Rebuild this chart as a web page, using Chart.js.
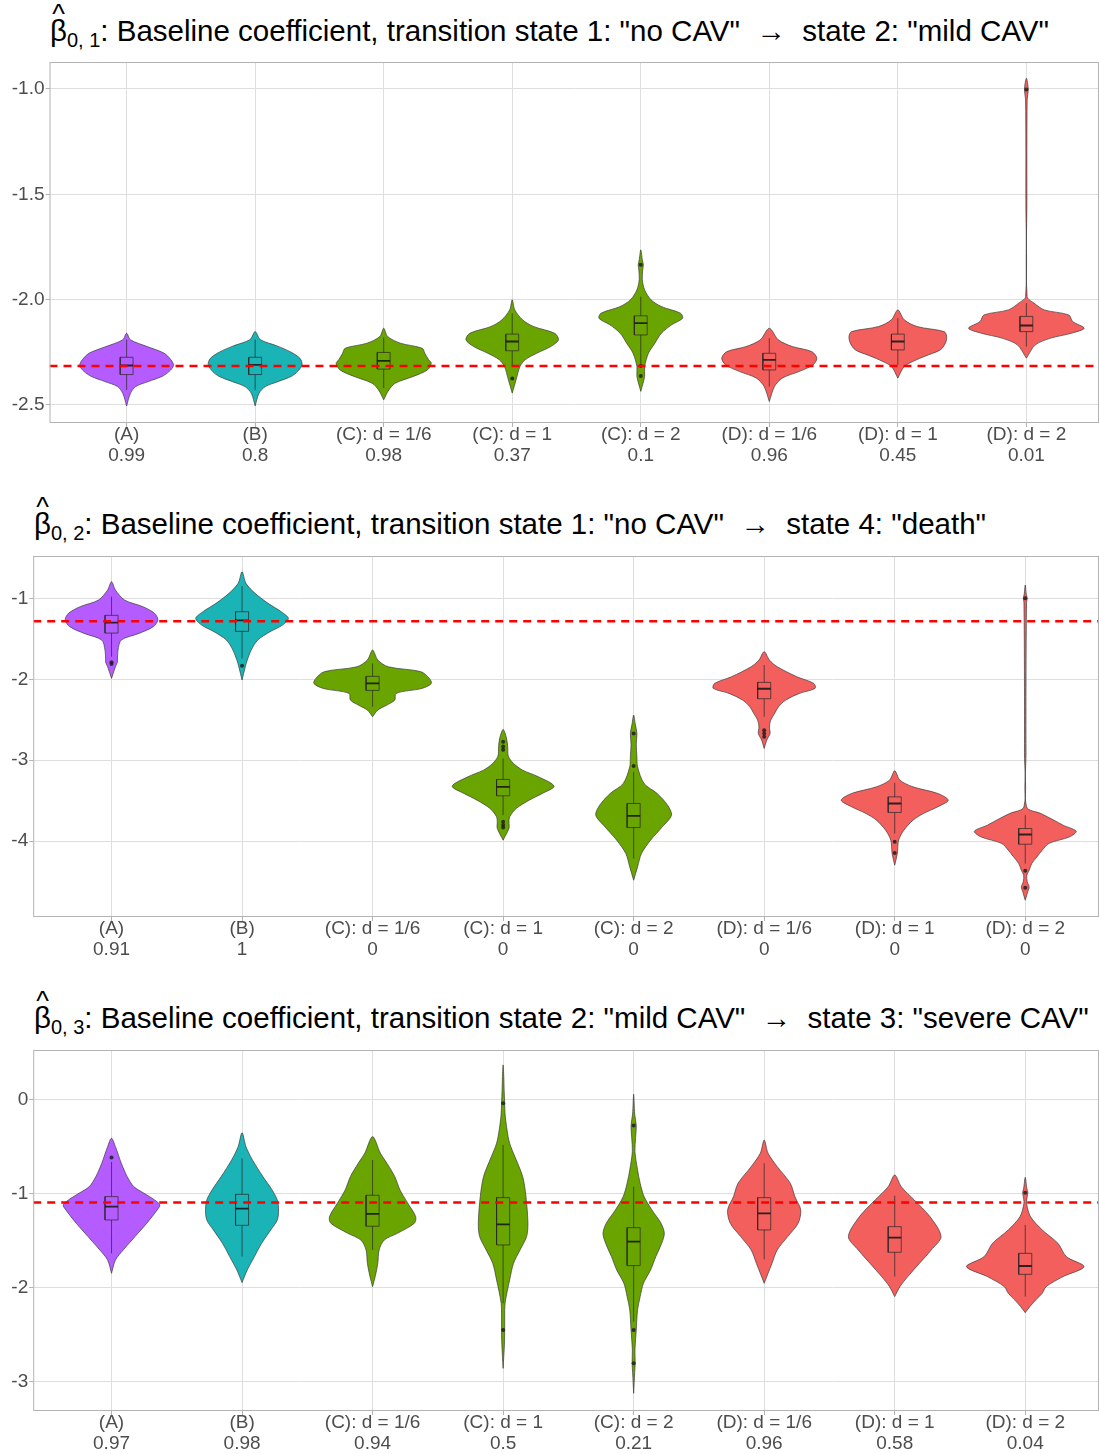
<!DOCTYPE html>
<html>
<head>
<meta charset="utf-8">
<script src="https://cdn.jsdelivr.net/npm/chart.js@4.4.1/dist/chart.umd.min.js"></script>
<style>
  body { margin: 0; background: #fff; width: 1099px; height: 1454px; overflow: hidden; position: relative;
         font-family: "Liberation Sans", Arial, sans-serif; }
  .title { position: absolute; font-size: 29.5px; line-height: 28px; color: #000; white-space: pre; }
  .title sub { font-size: 20px; vertical-align: -6px; line-height: 0; }
  .beta { position: relative; display: inline-block; }
  .hat { position: absolute; left: 0; right: 0; text-align: center; top: -17px; font-size: 27px; }
  canvas { position: absolute; left: 0; }
</style>
</head>
<body>
<div class="title" style="top:17px;left:50px"><span class="beta">β<span class="hat">^</span></span><sub>0, 1</sub>: Baseline coefficient, transition state 1: "no CAV"  →  state 2: "mild CAV"</div>
<canvas id="c1" width="1099" height="420" style="top:58px"></canvas>

<div class="title" style="top:510px;left:34px"><span class="beta">β<span class="hat">^</span></span><sub>0, 2</sub>: Baseline coefficient, transition state 1: "no CAV"  →  state 4: "death"</div>
<canvas id="c2" width="1099" height="420" style="top:552px"></canvas>

<div class="title" style="top:1004px;left:34px"><span class="beta">β<span class="hat">^</span></span><sub>0, 3</sub>: Baseline coefficient, transition state 2: "mild CAV"  →  state 3: "severe CAV"</div>
<canvas id="c3" width="1099" height="420" style="top:1046px"></canvas>

<script>
const categories = ["(A)", "(B)", "(C): d = 1/6", "(C): d = 1", "(C): d = 2", "(D): d = 1/6", "(D): d = 1", "(D): d = 2"];

// ---- panel 1: beta_{0,1}
const p1Coverage = ["0.99", "0.8", "0.98", "0.37", "0.1", "0.96", "0.45", "0.01"];
const p1TrueValue = -2.315;
const p1YTicks = [-2.5, -2.0, -1.5, -1.0];
const p1YLabels = ["-2.5", "-2.0", "-1.5", "-1.0"];
// [lower whisker, q1, median, q3, upper whisker]
const p1Box = [
  [-2.43, -2.356, -2.313, -2.274, -2.19],
  [-2.43, -2.356, -2.31, -2.274, -2.19],
  [-2.42, -2.33, -2.291, -2.251, -2.18],
  [-2.318, -2.243, -2.199, -2.164, -2.065],
  [-2.31, -2.168, -2.112, -2.077, -1.986],
  [-2.413, -2.334, -2.286, -2.255, -2.183],
  [-2.31, -2.239, -2.199, -2.164, -2.088],
  [-2.223, -2.152, -2.123, -2.08, -2.017]
];
const p1Outliers = [[], [], [], [-2.375], [-1.835, -2.315, -2.363], [], [], [-1.002]];
// violin outline: values from bottom tip to top tip, with half widths
const p1ViolinY = [
  [-2.505, -2.445, -2.413, -2.389, -2.365, -2.342, -2.313, -2.286, -2.254, -2.223, -2.191, -2.16],
  [-2.505, -2.445, -2.413, -2.389, -2.365, -2.342, -2.31, -2.28, -2.25, -2.22, -2.19, -2.152],
  [-2.476, -2.429, -2.397, -2.365, -2.334, -2.302, -2.286, -2.255, -2.231, -2.207, -2.175, -2.136],
  [-2.444, -2.381, -2.318, -2.286, -2.255, -2.223, -2.191, -2.16, -2.128, -2.096, -2.049, -2.001],
  [-2.436, -2.365, -2.318, -2.255, -2.207, -2.16, -2.12, -2.089, -2.065, -2.033, -2.001, -1.954, -1.906, -1.859, -1.835, -1.811, -1.764],
  [-2.484, -2.413, -2.373, -2.342, -2.31, -2.278, -2.247, -2.223, -2.191, -2.136],
  [-2.373, -2.318, -2.286, -2.262, -2.239, -2.207, -2.175, -2.152, -2.128, -2.096, -2.049],
  [-2.278, -2.215, -2.183, -2.16, -2.136, -2.104, -2.073, -2.049, -2.017, -1.986, -1.527, -1.052, -1.002, -0.949]
];
const p1ViolinW = [
  [0, 0.03, 0.07, 0.17, 0.275, 0.33, 0.365, 0.345, 0.29, 0.16, 0.03, 0],
  [0, 0.03, 0.08, 0.18, 0.28, 0.33, 0.365, 0.35, 0.28, 0.17, 0.04, 0],
  [0, 0.04, 0.09, 0.23, 0.34, 0.37, 0.35, 0.32, 0.3, 0.13, 0.03, 0],
  [0, 0.03, 0.06, 0.1, 0.19, 0.3, 0.36, 0.33, 0.166, 0.08, 0.02, 0],
  [0, 0.03, 0.03, 0.06, 0.11, 0.16, 0.24, 0.325, 0.31, 0.16, 0.08, 0.03, 0.012, 0.015, 0.02, 0.012, 0],
  [0, 0.04, 0.1, 0.23, 0.34, 0.37, 0.33, 0.18, 0.07, 0],
  [0, 0.05, 0.145, 0.24, 0.33, 0.37, 0.38, 0.36, 0.15, 0.05, 0],
  [0, 0.07, 0.19, 0.35, 0.45, 0.36, 0.33, 0.14, 0.06, 0.006, 0.004, 0.006, 0.015, 0]
];

// ---- panel 2: beta_{0,2}
const p2Coverage = ["0.91", "1", "0", "0", "0", "0", "0", "0"];
const p2TrueValue = -1.284;
const p2YTicks = [-4, -3, -2, -1];
const p2YLabels = ["-4", "-3", "-2", "-1"];
const p2Box = [
  [-1.721, -1.429, -1.301, -1.21, -0.98],
  [-1.742, -1.408, -1.272, -1.165, -0.848],
  [-2.339, -2.137, -2.051, -1.964, -1.803],
  [-3.678, -3.439, -3.328, -3.237, -2.978],
  [-4.214, -3.831, -3.686, -3.534, -3.143],
  [-2.463, -2.24, -2.117, -2.038, -1.824],
  [-3.905, -3.645, -3.534, -3.452, -3.279],
  [-4.276, -4.037, -3.917, -3.843, -3.678]
];
const p2Outliers = [[-1.79, -1.81], [-1.832], [], [-2.77, -2.83, -2.87, -3.76, -3.8, -3.83], [-2.669, -3.07], [-2.63, -2.67, -2.71], [-4.008, -4.144], [-1.0, -4.366, -4.576]];
const p2ViolinY = [
  [-1.989, -1.845, -1.79, -1.762, -1.639, -1.515, -1.433, -1.35, -1.268, -1.185, -1.103, -1.021, -0.897, -0.794],
  [-2.009, -1.845, -1.762, -1.639, -1.515, -1.412, -1.33, -1.247, -1.165, -1.062, -0.938, -0.815, -0.67],
  [-2.463, -2.38, -2.318, -2.257, -2.174, -2.112, -2.051, -1.989, -1.906, -1.845, -1.762, -1.639],
  [-3.987, -3.84, -3.76, -3.699, -3.596, -3.493, -3.41, -3.32, -3.204, -3.122, -3.04, -2.95, -2.83, -2.72, -2.619],
  [-4.482, -4.317, -4.152, -3.987, -3.822, -3.678, -3.555, -3.41, -3.287, -3.081, -2.957, -2.8, -2.669, -2.55, -2.442],
  [-2.854, -2.75, -2.67, -2.59, -2.504, -2.421, -2.339, -2.257, -2.174, -2.112, -2.051, -1.968, -1.845, -1.762, -1.659],
  [-4.296, -4.152, -3.987, -3.864, -3.74, -3.658, -3.575, -3.493, -3.41, -3.328, -3.246, -3.13],
  [-4.729, -4.62, -4.564, -4.5, -4.42, -4.358, -4.276, -4.193, -4.111, -4.028, -3.946, -3.876, -3.802, -3.74, -3.658, -3.575, -2.9, -2.0, -1.05, -1.0, -0.95, -0.835]
];
const p2ViolinW = [
  [0, 0.03, 0.045, 0.045, 0.05, 0.075, 0.21, 0.32, 0.355, 0.33, 0.24, 0.1, 0.03, 0],
  [0, 0.025, 0.04, 0.07, 0.12, 0.215, 0.31, 0.355, 0.3, 0.2, 0.1, 0.03, 0],
  [0, 0.04, 0.11, 0.17, 0.18, 0.38, 0.45, 0.435, 0.37, 0.12, 0.04, 0],
  [0, 0.045, 0.045, 0.05, 0.1, 0.2, 0.3, 0.39, 0.27, 0.15, 0.08, 0.04, 0.035, 0.025, 0],
  [0, 0.03, 0.06, 0.13, 0.22, 0.29, 0.26, 0.18, 0.08, 0.03, 0.025, 0.02, 0.025, 0.012, 0],
  [0, 0.02, 0.045, 0.04, 0.05, 0.08, 0.11, 0.165, 0.27, 0.39, 0.38, 0.25, 0.1, 0.04, 0],
  [0, 0.02, 0.03, 0.07, 0.14, 0.22, 0.33, 0.41, 0.33, 0.14, 0.04, 0],
  [0, 0.02, 0.03, 0.015, 0.012, 0.03, 0.05, 0.09, 0.13, 0.18, 0.34, 0.39, 0.29, 0.22, 0.12, 0.01, 0.006, 0.006, 0.01, 0.015, 0.008, 0]
];

// ---- panel 3: beta_{0,3}
const p3Coverage = ["0.97", "0.98", "0.94", "0.5", "0.21", "0.96", "0.58", "0.04"];
const p3TrueValue = -1.093;
const p3YTicks = [-3, -2, -1, 0];
const p3YLabels = ["-3", "-2", "-1", "0"];
const p3Box = [
  [-1.633, -1.278, -1.136, -1.029, -0.66],
  [-1.668, -1.335, -1.157, -1.005, -0.621],
  [-1.597, -1.345, -1.214, -1.015, -0.639],
  [-2.165, -1.544, -1.324, -1.04, -0.479],
  [-2.361, -1.764, -1.509, -1.36, -0.923],
  [-1.697, -1.384, -1.207, -1.04, -0.674],
  [-1.881, -1.622, -1.466, -1.349, -1.019],
  [-2.094, -1.857, -1.768, -1.633, -1.331]
];
const p3Outliers = [[-0.614], [], [], [-0.035, -2.449], [-0.273, -2.449, -2.804], [], [], [-0.987]];
const p3ViolinY = [
  [-1.846, -1.704, -1.597, -1.455, -1.313, -1.171, -1.118, -1.065, -0.994, -0.922, -0.816, -0.674, -0.497, -0.408],
  [-1.945, -1.81, -1.668, -1.526, -1.384, -1.278, -1.171, -1.065, -0.958, -0.816, -0.639, -0.497, -0.348],
  [-1.988, -1.881, -1.739, -1.597, -1.491, -1.42, -1.313, -1.242, -1.1, -0.958, -0.816, -0.674, -0.568, -0.39],
  [-2.858, -2.6, -2.449, -2.3, -2.165, -1.917, -1.739, -1.597, -1.455, -1.313, -1.029, -0.816, -0.603, -0.461, -0.319, -0.15, -0.035, 0.1, 0.25, 0.373],
  [-3.124, -2.9, -2.804, -2.662, -2.449, -2.236, -2.094, -1.952, -1.81, -1.668, -1.526, -1.42, -1.313, -1.171, -1.029, -0.887, -0.745, -0.55, -0.4, -0.273, -0.15, 0.06],
  [-1.952, -1.845, -1.739, -1.597, -1.455, -1.313, -1.171, -1.029, -0.887, -0.71, -0.568, -0.426],
  [-2.094, -1.988, -1.881, -1.739, -1.597, -1.455, -1.242, -1.065, -0.923, -0.799],
  [-2.265, -2.201, -2.13, -2.059, -1.988, -1.881, -1.775, -1.668, -1.526, -1.384, -1.242, -1.1, -1.03, -0.987, -0.94, -0.824]
];
const p3ViolinW = [
  [0, 0.03, 0.09, 0.18, 0.27, 0.35, 0.37, 0.33, 0.25, 0.17, 0.12, 0.075, 0.03, 0],
  [0, 0.04, 0.095, 0.15, 0.22, 0.27, 0.28, 0.27, 0.23, 0.16, 0.08, 0.03, 0],
  [0, 0.02, 0.04, 0.05, 0.09, 0.19, 0.32, 0.33, 0.27, 0.21, 0.17, 0.11, 0.06, 0],
  [0, 0.01, 0.012, 0.012, 0.015, 0.05, 0.08, 0.13, 0.18, 0.19, 0.175, 0.15, 0.09, 0.05, 0.03, 0.015, 0.012, 0.008, 0.005, 0],
  [0, 0.008, 0.012, 0.01, 0.02, 0.03, 0.05, 0.075, 0.13, 0.17, 0.215, 0.235, 0.21, 0.14, 0.08, 0.05, 0.03, 0.01, 0.015, 0.02, 0.008, 0],
  [0, 0.03, 0.06, 0.1, 0.18, 0.26, 0.28, 0.235, 0.2, 0.1, 0.03, 0],
  [0, 0.04, 0.1, 0.19, 0.28, 0.355, 0.27, 0.15, 0.05, 0],
  [0, 0.035, 0.08, 0.13, 0.16, 0.29, 0.45, 0.315, 0.25, 0.13, 0.04, 0.01, 0.015, 0.02, 0.012, 0]
];

// styles
const catColors = ["#B45CFF", "#1AB3B6", "#6AA400", "#6AA400", "#6AA400", "#F25F5C", "#F25F5C", "#F25F5C"];
const BOX_HALF = 0.05;
const X_MIN = -0.6, X_MAX = 7.565;
const tickFont = { family: "Liberation Sans, Arial, sans-serif", size: 19, lineHeight: 1.08 };

function violinPoints(i, ys, ws) {
  const pts = [];
  for (let k = 0; k < ys.length; k++) pts.push({ x: i + ws[k], y: ys[k] });
  for (let k = ys.length - 2; k >= 0; k--) pts.push({ x: i - ws[k], y: ys[k] });
  return pts;
}

function boxPoints(i, b) {
  const [lo, q1, , q3, hi] = b;
  const h = BOX_HALF;
  return [
    { x: i, y: lo }, { x: i, y: q1 }, { x: i, y: null },
    { x: i - h, y: q1 }, { x: i + h, y: q1 }, { x: i + h, y: q3 }, { x: i - h, y: q3 }, { x: i - h, y: q1 }, { x: i, y: null },
    { x: i, y: q3 }, { x: i, y: hi }, { x: i, y: null }
  ];
}

// no extra room for overhanging tick labels
function noPad(s) {
  s.paddingTop = 0; s.paddingBottom = 0; s.paddingLeft = 0; s.paddingRight = 0;
}

// grey frame round the plot area
const panelBorder = {
  id: "panelBorder",
  afterDraw(chart) {
    const { ctx, chartArea: a } = chart;
    ctx.save();
    ctx.strokeStyle = "#b3b3b3";
    ctx.lineWidth = 1;
    ctx.strokeRect(a.left + 0.5, a.top + 0.5, a.right - a.left - 1, a.bottom - a.top - 1);
    ctx.restore();
  }
};

function buildPanel(id, p) {
  const datasets = [];

  datasets.push({
    data: [{ x: X_MIN, y: p.trueValue }, { x: X_MAX, y: p.trueValue }],
    showLine: true, borderColor: "#FF0000", borderWidth: 2.5, borderDash: [8, 6],
    pointRadius: 0, pointHoverRadius: 0, order: 0
  });

  const outPts = [];
  p.outliers.forEach((arr, i) => arr.forEach(v => outPts.push({ x: i, y: v })));
  datasets.push({
    data: outPts, pointRadius: 2, pointHoverRadius: 2, pointBorderWidth: 0,
    pointBackgroundColor: "rgba(30,30,30,0.85)", order: 1
  });

  const medPts = [];
  p.box.forEach((b, i) => medPts.push({ x: i - BOX_HALF, y: b[2] }, { x: i + BOX_HALF, y: b[2] }, { x: i, y: null }));
  datasets.push({
    data: medPts, showLine: true, borderColor: "rgba(25,25,25,0.9)", borderWidth: 1.8,
    pointRadius: 0, pointHoverRadius: 0, order: 1
  });

  const boxPts = [];
  p.box.forEach((b, i) => boxPts.push(...boxPoints(i, b)));
  datasets.push({
    data: boxPts, showLine: true, borderColor: "rgba(40,40,40,0.7)", borderWidth: 1,
    pointRadius: 0, pointHoverRadius: 0, order: 2
  });

  categories.forEach((c, i) => {
    datasets.push({
      data: violinPoints(i, p.violinY[i], p.violinW[i]),
      showLine: true, fill: "shape", tension: 0.3,
      backgroundColor: catColors[i], borderColor: "rgba(55,55,55,0.85)", borderWidth: 0.8,
      pointRadius: 0, pointHoverRadius: 0, order: 3
    });
  });

  return new Chart(document.getElementById(id), {
    type: "scatter",
    data: { datasets },
    options: {
      responsive: false,
      animation: false,
      events: [],
      layout: { autoPadding: false, padding: { top: 4, right: 0, bottom: 0, left: 0 } },
      plugins: { legend: { display: false }, tooltip: { enabled: false } },
      scales: {
        x: {
          type: "linear", min: X_MIN, max: X_MAX,
          afterBuildTicks: s => { s.ticks = categories.map((c, i) => ({ value: i })); },
          afterFit: s => { s.height = 55; noPad(s); },
          border: { display: false },
          grid: { color: "#dedede", lineWidth: 1, tickLength: 4, tickColor: "#b3b3b3" },
          ticks: {
            font: tickFont, color: "#4d4d4d", padding: -2, maxRotation: 0, autoSkip: false,
            callback: (v, i) => [categories[i], p.coverage[i]]
          }
        },
        y: {
          type: "linear", min: p.yMin, max: p.yMax,
          afterBuildTicks: s => { s.ticks = p.yTicks.map(v => ({ value: v })); },
          afterFit: s => { s.width = p.axisWidth; noPad(s); },
          border: { display: false },
          grid: { color: "#dedede", lineWidth: 1, tickLength: 4, tickColor: "#b3b3b3" },
          ticks: {
            font: tickFont, color: "#4d4d4d", padding: 1,
            callback: (v, i) => p.yLabels[i]
          }
        }
      }
    },
    plugins: [panelBorder]
  });
}

buildPanel("c1", {
  coverage: p1Coverage, trueValue: p1TrueValue, yTicks: p1YTicks, yLabels: p1YLabels,
  yMin: -2.586, yMax: -0.872, box: p1Box, outliers: p1Outliers,
  violinY: p1ViolinY, violinW: p1ViolinW, axisWidth: 49.5
});
buildPanel("c2", {
  coverage: p2Coverage, trueValue: p2TrueValue, yTicks: p2YTicks, yLabels: p2YLabels,
  yMin: -4.936, yMax: -0.477, box: p2Box, outliers: p2Outliers,
  violinY: p2ViolinY, violinW: p2ViolinW, axisWidth: 33.2
});
buildPanel("c3", {
  coverage: p3Coverage, trueValue: p3TrueValue, yTicks: p3YTicks, yLabels: p3YLabels,
  yMin: -3.312, yMax: 0.532, box: p3Box, outliers: p3Outliers,
  violinY: p3ViolinY, violinW: p3ViolinW, axisWidth: 33.2
});
</script>
</body>
</html>
